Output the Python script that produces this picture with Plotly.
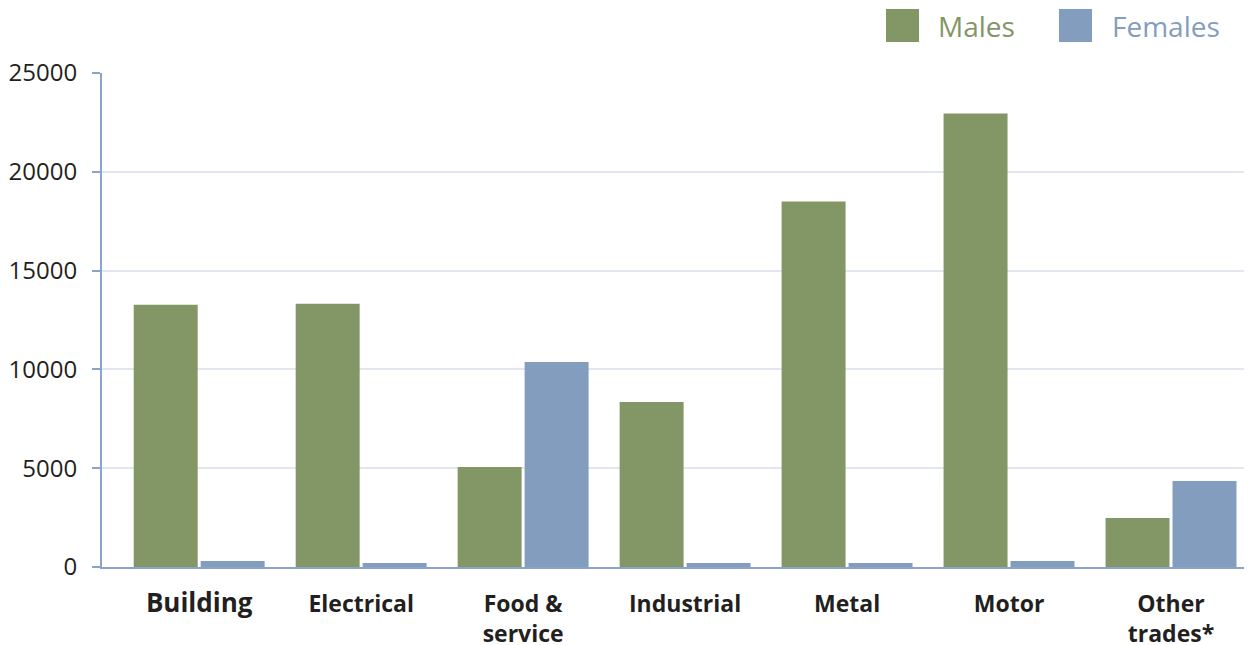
import plotly.graph_objects as go

categories = ["Building", "Electrical", "Food &amp;<br>service", "Industrial", "Metal", "Motor", "Other<br>trades*"]
males = [13270, 13320, 5060, 8350, 18500, 22950, 2480]
females = [300, 200, 10380, 200, 200, 300, 4350]
series_names = ["Males", "Females"]
y_ticks = [0, 5000, 10000, 15000, 20000, 25000]

GREEN = "#839665"
BLUE = "#839dbe"
AXIS = "#8aa3c9"
GRID = "#e1e6ef"
TEXT = "#231f20"
FONT = "Open Sans"

x_idx = list(range(len(categories)))
tick_text = []
for i, c in enumerate(categories):
    if i == 0:
        tick_text.append(f"<span style='font-size:26px'>{c}</span>")
    else:
        tick_text.append(c)

fig = go.Figure()
fig.add_trace(go.Bar(x=x_idx, y=males, name=series_names[0], marker=dict(color=GREEN, line=dict(width=0)), showlegend=False))
fig.add_trace(go.Bar(x=x_idx, y=females, name=series_names[1], marker=dict(color=BLUE, line=dict(width=0)), showlegend=False))

# the page body adds an 8px offset; work in page pixels and subtract it
OFF = 8
W, H = 1252 - OFF, 645
PL, PR, PT, PB = 102 - OFF, 1252 - OFF, 73 - OFF, 567 - OFF
pw, ph = PR - PL, PB - PT
# manual legend (paper coordinates)
legend_items = [(series_names[0], GREEN, 886 - OFF, 936 - OFF), (series_names[1], BLUE, 1059 - OFF, 1110 - OFF)]
for name, col, sx, tx in legend_items:
    fig.add_shape(type="rect", xref="paper", yref="paper",
                  x0=(sx - PL) / pw, x1=(sx + 33 - PL) / pw,
                  y0=(PB - (42 - OFF)) / ph, y1=(PB - (9 - OFF)) / ph,
                  fillcolor=col, line=dict(width=0))
    fig.add_annotation(xref="paper", yref="paper", x=(tx - PL) / pw, y=(PB - (26 - OFF)) / ph,
                       text=name, showarrow=False, xanchor="left", yanchor="middle",
                       font=dict(family=FONT, size=28, color=col))

fig.update_layout(
    width=W, height=H,
    margin=dict(l=PL, r=W - PR, t=PT, b=H - PB, autoexpand=False),
    paper_bgcolor="white", plot_bgcolor="white",
    barmode="group", bargap=0.173, bargroupgap=0.045,
    font=dict(family=FONT, color=TEXT),
    showlegend=False,
)
fig.update_xaxes(
    range=[-0.6, 6.5], tickmode="array", tickvals=x_idx, ticktext=tick_text,
    showgrid=False, showline=True, linecolor=AXIS, linewidth=2,
    ticks="", ticklabelstandoff=15, automargin=False,
    tickfont=dict(family=FONT, size=23, color=TEXT, weight="bold"),
    zeroline=False,
)
fig.update_yaxes(
    range=[0, 25000], tickmode="array", tickvals=y_ticks, ticktext=[str(v) for v in y_ticks],
    showgrid=True, gridcolor=GRID, gridwidth=2,
    showline=True, linecolor=AXIS, linewidth=2,
    ticks="outside", ticklen=8, tickcolor=AXIS, tickwidth=2,
    ticklabelstandoff=10, automargin=False,
    tickfont=dict(family=FONT, size=24, color=TEXT),
    zeroline=False,
)

fig.write_html("out.html")
